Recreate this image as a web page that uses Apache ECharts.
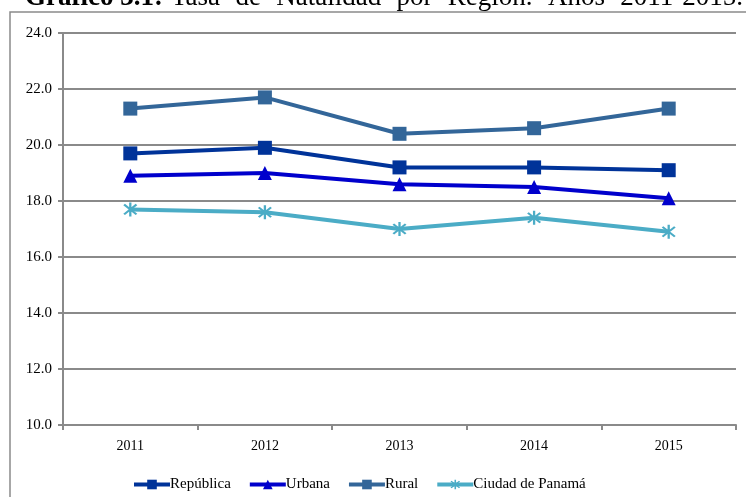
<!DOCTYPE html>
<html>
<head>
<meta charset="utf-8">
<script src="https://cdn.jsdelivr.net/npm/echarts@6/dist/echarts.min.js"></script>
<style>
html,body{margin:0;padding:0;background:#fff;}
#chart{width:746px;height:497px;}
</style>
</head>
<body>
<div id="chart"></div>
<script>
var years = ['2011', '2012', '2013', '2014', '2015'];
var republica = [19.7, 19.9, 19.2, 19.2, 19.1];
var urbana = [18.9, 19.0, 18.6, 18.5, 18.1];
var rural = [21.3, 21.7, 20.4, 20.6, 21.3];
var ciudadPanama = [17.7, 17.6, 17.0, 17.4, 16.9];
var seriesNames = ['República', 'Urbana', 'Rural', 'Ciudad de Panamá'];
var titleBold = 'Gráfico 3.1:';
var titleWords = ['Tasa', 'de', 'Natalidad', 'por', 'Región.', 'Años', '2011-2015.'];

var FONT = '"Liberation Serif", "Times New Roman", serif';
var asterisk = 'path://M8.7,0L11.3,0L11.3,20L8.7,20Z' +
  'M3.92,2.08L17.92,16.08L16.08,17.92L2.08,3.92Z' +
  'M17.92,3.92L3.92,17.92L2.08,16.08L16.08,2.08Z';

// title laid out as in the (justified) source: words spread up to the right end
var TITLE_SIZE = 27;
var ctx = document.createElement('canvas').getContext('2d');
ctx.font = TITLE_SIZE + 'px ' + FONT;
var widths = titleWords.map(function (w) { return ctx.measureText(w).width; });
ctx.font = 'bold ' + TITLE_SIZE + 'px ' + FONT;
var boldW = ctx.measureText(titleBold).width;
var titleLeft = 25, titleRight = 743;
var wordsStart = titleLeft + boldW + 8;
var totalW = widths.reduce(function (a, b) { return a + b; }, 0);
var gap = (titleRight - wordsStart - totalW) / (titleWords.length - 1);
var titleGraphics = [{
  type: 'text', x: titleLeft, y: 11.5, silent: true,
  style: {text: titleBold, font: 'bold ' + TITLE_SIZE + 'px ' + FONT, fill: '#000', verticalAlign: 'bottom'}
}];
var cx = wordsStart;
titleWords.forEach(function (w, i) {
  titleGraphics.push({
    type: 'text', x: cx, y: 11.5, silent: true,
    style: {text: w, font: TITLE_SIZE + 'px ' + FONT, fill: '#000', verticalAlign: 'bottom'}
  });
  cx += widths[i] + gap;
});

var chart = echarts.init(document.getElementById('chart'), null, {renderer: 'canvas'});

function mkSeries(name, data, color, symbol, size) {
  return {
    name: name,
    type: 'line',
    data: data,
    symbol: symbol,
    symbolSize: size,
    showAllSymbol: true,
    lineStyle: {color: color, width: 4},
    itemStyle: {color: color},
    emphasis: {disabled: true},
    animation: false,
    z: 3
  };
}

chart.setOption({
  animation: false,
  graphic: [
    {
      type: 'rect',
      shape: {x: 10, y: 12, width: 800, height: 520},
      style: {fill: 'none', stroke: '#8a8a8a', lineWidth: 1.5},
      silent: true,
      z: -1
    }
  ].concat(titleGraphics),
  grid: {left: 63, right: 10, top: 33, bottom: 72, containLabel: false},
  legend: {
    left: 127,
    top: 472,
    itemWidth: 36,
    itemHeight: 12,
    itemGap: 17,
    data: seriesNames,
    lineStyle: {width: 4},
    textStyle: {fontFamily: FONT, fontSize: 15, color: '#000', padding: [0, 0, 0, -5]},
    selectedMode: false
  },
  xAxis: {
    type: 'category',
    data: years,
    boundaryGap: true,
    axisLine: {lineStyle: {color: '#8a8a8a', width: 2}},
    axisTick: {show: true, length: 5, lineStyle: {color: '#8a8a8a', width: 2}},
    axisLabel: {fontFamily: FONT, fontSize: 14, color: '#000', margin: 14}
  },
  yAxis: {
    type: 'value',
    min: 10,
    max: 24,
    interval: 2,
    axisLine: {show: true, lineStyle: {color: '#8a8a8a', width: 2}},
    axisTick: {show: true, length: 5, lineStyle: {color: '#8a8a8a', width: 2}},
    splitLine: {lineStyle: {color: '#8a8a8a', width: 2}},
    axisLabel: {
      fontFamily: FONT, fontSize: 15, color: '#000', margin: 11,
      formatter: function (v) { return v.toFixed(1); }
    }
  },
  series: [
    mkSeries(seriesNames[0], republica, '#003399', 'rect', 14),
    mkSeries(seriesNames[1], urbana, '#0000CC', 'triangle', 14),
    mkSeries(seriesNames[2], rural, '#336699', 'rect', 14),
    mkSeries(seriesNames[3], ciudadPanama, '#4BACC6', asterisk, 14)
  ]
});
</script>
</body>
</html>
